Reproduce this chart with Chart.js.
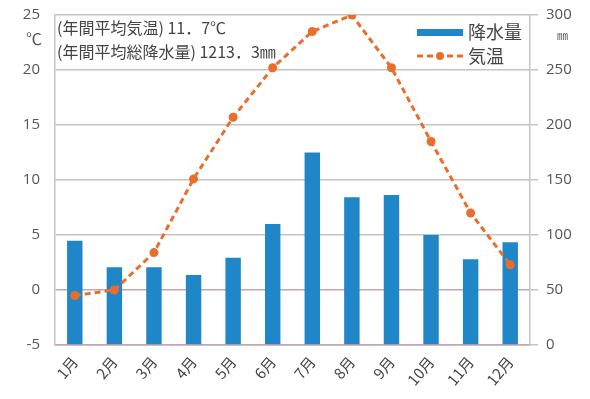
<!DOCTYPE html>
<html>
<head>
<meta charset="utf-8">
<script src="https://cdn.jsdelivr.net/npm/chart.js@4.4.0/dist/chart.umd.min.js"></script>
<style>
  html, body { margin: 0; padding: 0; background: #fff; }
  #wrap { width: 590px; height: 399px; }
</style>
</head>
<body>
<div id="wrap"><canvas id="chart"></canvas></div>
<script>
const months = ["1月", "2月", "3月", "4月", "5月", "6月", "7月", "8月", "9月", "10月", "11月", "12月"];
const precipitation = [94.8, 70.6, 70.6, 63.6, 79.4, 110.0, 175.0, 134.3, 136.4, 100.0, 77.9, 93.3];
const temperature = [-0.5, 0.0, 3.4, 10.1, 15.7, 20.2, 23.5, 25.0, 20.2, 13.5, 7.0, 2.3];
const tempTicks = [-5, 0, 5, 10, 15, 20, 25];
const rainTicks = [0, 50, 100, 150, 200, 250, 300];
const notes = ["(年間平均気温) 11．7℃", "(年間平均総降水量) 1213．3㎜"];

const BLUE = "#1f87c7";
const ORANGE = "#ea6e2b";
const GRID = "#c4c4c4";
const BASE = "#c2a7b0";
const TEXT = "#555";
const JP = "'Noto Sans CJK JP', 'Noto Sans', sans-serif";

// notes, unit marks and the legend are painted by hand
const extras = {
  id: "extras",
  beforeDatasetsDraw(chart) {
    const { ctx, chartArea } = chart;
    ctx.save();
    ctx.fillStyle = "#444";
    ctx.font = "16px " + JP;
    ctx.textBaseline = "middle";
    ctx.textAlign = "left";
    ctx.fillText(notes[0], chartArea.left + 2, 28);
    ctx.fillText(notes[1], chartArea.left + 2, 52);
    ctx.restore();
  },
  afterDraw(chart) {
    const { ctx } = chart;
    ctx.save();
    ctx.fillStyle = TEXT;
    ctx.textBaseline = "middle";
    ctx.font = "16px " + JP;
    ctx.textAlign = "right";
    ctx.fillText("℃", 42, 39);
    ctx.font = "11px " + JP;
    ctx.textAlign = "left";
    ctx.fillText("㎜", 557, 36);

    // legend
    const lx = 417, lw = 46;
    ctx.fillStyle = BLUE;
    ctx.fillRect(lx, 29, lw, 7);
    ctx.strokeStyle = ORANGE;
    ctx.lineWidth = 3;
    ctx.setLineDash([6, 4]);
    ctx.beginPath();
    ctx.moveTo(lx, 56);
    ctx.lineTo(lx + lw, 56);
    ctx.stroke();
    ctx.setLineDash([]);
    ctx.fillStyle = ORANGE;
    ctx.beginPath();
    ctx.arc(lx + lw / 2, 56, 4, 0, Math.PI * 2);
    ctx.fill();
    ctx.fillStyle = "#444";
    ctx.font = "18px " + JP;
    ctx.fillText("降水量", 468, 32);
    ctx.fillText("気温", 468, 56);
    ctx.restore();
  }
};

// keep tick padding from pushing the plot area down
function tightVertical(s, width) {
  s.width = width;
  s.paddingTop = 4;
  s.paddingBottom = 4;
}

new Chart(document.getElementById("chart"), {
  data: {
    labels: months,
    datasets: [
      {
        type: "line",
        label: "気温",
        data: temperature,
        yAxisID: "y",
        order: 1,
        borderColor: ORANGE,
        backgroundColor: ORANGE,
        borderWidth: 3,
        borderDash: [6, 4],
        pointRadius: 4.5,
        pointBorderWidth: 0,
        tension: 0
      },
      {
        type: "bar",
        label: "降水量",
        data: precipitation,
        yAxisID: "y1",
        order: 2,
        backgroundColor: BLUE,
        categoryPercentage: 1,
        barPercentage: 0.39
      }
    ]
  },
  options: {
    responsive: true,
    maintainAspectRatio: false,
    animation: false,
    layout: { padding: { top: 15, left: 0, right: 0, bottom: 0 } },
    plugins: { legend: { display: false }, tooltip: { enabled: false } },
    scales: {
      x: {
        grid: { display: false },
        border: { display: true, color: BASE, width: 1.5 },
        ticks: {
          color: "#444",
          font: { family: JP, size: 15 },
          minRotation: 50,
          maxRotation: 50,
          padding: 0
        },
        afterFit(s) { s.height = 54; }
      },
      y: {
        position: "left",
        min: -5,
        max: 25,
        afterBuildTicks(s) { s.ticks = tempTicks.map(v => ({ value: v })); },
        grid: {
          drawTicks: false,
          lineWidth: 1.5,
          color: c => (c.tick && c.tick.value === 0) || c.index === 0 ? BASE : GRID
        },
        border: { display: true, color: GRID, width: 1.5 },
        ticks: {
          color: TEXT,
          font: { family: "'Open Sans', sans-serif", size: 15 },
          padding: 15
        },
        afterFit(s) { tightVertical(s, 55); }
      },
      y1: {
        position: "right",
        min: 0,
        max: 300,
        afterBuildTicks(s) { s.ticks = rainTicks.map(v => ({ value: v })); },
        grid: {
          drawOnChartArea: false,
          drawTicks: true,
          tickLength: 8,
          lineWidth: 1.5,
          color: GRID
        },
        border: { display: true, color: GRID, width: 1.5 },
        ticks: {
          color: TEXT,
          font: { family: "'Open Sans', sans-serif", size: 15 },
          padding: 8
        },
        afterFit(s) { tightVertical(s, 60); }
      }
    }
  },
  plugins: [extras]
});
</script>
</body>
</html>
